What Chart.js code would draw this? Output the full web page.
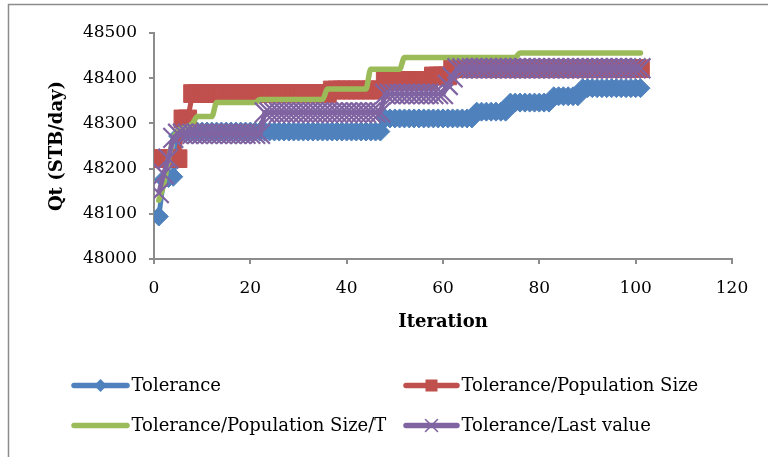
<!DOCTYPE html>
<html>
<head>
<meta charset="utf-8">
<script src="https://cdn.jsdelivr.net/npm/chart.js@4.4.1/dist/chart.umd.min.js"></script>
<style>
  html, body { margin: 0; padding: 0; background: #ffffff; }
  canvas { display: block; }
</style>
</head>
<body>
<canvas id="chart" width="768" height="457"></canvas>
<script>
// Iteration numbers (x values)
const iterations = [
  1, 2, 3, 4, 5, 6, 7, 8, 9, 10, 11, 12, 13, 14, 15, 16, 17, 18, 19, 20,
  21, 22, 23, 24, 25, 26, 27, 28, 29, 30, 31, 32, 33, 34, 35, 36, 37, 38, 39, 40,
  41, 42, 43, 44, 45, 46, 47, 48, 49, 50, 51, 52, 53, 54, 55, 56, 57, 58, 59, 60,
  61, 62, 63, 64, 65, 66, 67, 68, 69, 70, 71, 72, 73, 74, 75, 76, 77, 78, 79, 80,
  81, 82, 83, 84, 85, 86, 87, 88, 89, 90, 91, 92, 93, 94, 95, 96, 97, 98, 99, 100,
  101
];

// Qt (STB/day) per iteration for each stopping criterion
const tolerance = [
  48094, 48176, 48179, 48182, 48272, 48282, 48282, 48282, 48282, 48282,
  48282, 48282, 48282, 48282, 48282, 48282, 48282, 48282, 48282, 48282,
  48282, 48282, 48282, 48282, 48282, 48282, 48282, 48282, 48282, 48282,
  48282, 48282, 48282, 48282, 48282, 48282, 48282, 48282, 48282, 48282,
  48282, 48282, 48282, 48282, 48282, 48282, 48282, 48311, 48311, 48311,
  48311, 48311, 48311, 48311, 48311, 48311, 48311, 48311, 48311, 48311,
  48311, 48311, 48311, 48311, 48311, 48311, 48326, 48326, 48326, 48326,
  48326, 48326, 48326, 48346, 48346, 48346, 48346, 48346, 48346, 48346,
  48346, 48346, 48360, 48360, 48360, 48360, 48360, 48360, 48378, 48378,
  48378, 48378, 48378, 48378, 48378, 48378, 48378, 48378, 48378, 48378,
  48378
];

const tolPopSize = [
  48222, 48222, 48222, 48222, 48222, 48310, 48310, 48366, 48366, 48366,
  48366, 48366, 48366, 48366, 48366, 48366, 48366, 48366, 48366, 48366,
  48366, 48366, 48366, 48366, 48366, 48366, 48366, 48366, 48366, 48366,
  48366, 48366, 48366, 48366, 48366, 48366, 48374, 48374, 48374, 48374,
  48374, 48374, 48374, 48374, 48374, 48374, 48374, 48395, 48395, 48395,
  48395, 48395, 48395, 48395, 48395, 48395, 48395, 48405, 48405, 48405,
  48405, 48421, 48421, 48421, 48421, 48421, 48421, 48421, 48421, 48421,
  48421, 48421, 48421, 48421, 48421, 48421, 48421, 48421, 48421, 48421,
  48421, 48421, 48421, 48421, 48421, 48421, 48421, 48421, 48421, 48421,
  48421, 48421, 48421, 48421, 48421, 48421, 48421, 48421, 48421, 48421,
  48421
];

const tolPopSizeT = [
  48130, 48165, 48220, 48265, 48285, 48289, 48293, 48300, 48315, 48315,
  48315, 48315, 48346, 48346, 48346, 48346, 48346, 48346, 48346, 48346,
  48346, 48353, 48353, 48353, 48353, 48353, 48353, 48353, 48353, 48353,
  48353, 48353, 48353, 48353, 48353, 48376, 48376, 48376, 48376, 48376,
  48376, 48376, 48376, 48376, 48420, 48420, 48420, 48420, 48420, 48420,
  48420, 48446, 48446, 48446, 48446, 48446, 48446, 48446, 48446, 48446,
  48446, 48446, 48446, 48446, 48446, 48446, 48446, 48446, 48446, 48446,
  48446, 48446, 48446, 48446, 48446, 48456, 48456, 48456, 48456, 48456,
  48456, 48456, 48456, 48456, 48456, 48456, 48456, 48456, 48456, 48456,
  48456, 48456, 48456, 48456, 48456, 48456, 48456, 48456, 48456, 48456,
  48456
];

const tolLastValue = [
  48146, 48188, 48222, 48268, 48277, 48277, 48277, 48277, 48277, 48277,
  48277, 48277, 48277, 48277, 48277, 48277, 48277, 48277, 48277, 48277,
  48277, 48277, 48324, 48324, 48324, 48324, 48324, 48324, 48324, 48324,
  48324, 48324, 48324, 48324, 48324, 48324, 48324, 48324, 48324, 48324,
  48324, 48324, 48324, 48324, 48324, 48324, 48324, 48365, 48365, 48365,
  48365, 48365, 48365, 48365, 48365, 48365, 48365, 48365, 48365, 48365,
  48385, 48402, 48422, 48422, 48422, 48422, 48422, 48422, 48422, 48422,
  48422, 48422, 48422, 48422, 48422, 48422, 48422, 48422, 48422, 48422,
  48422, 48422, 48422, 48422, 48422, 48422, 48422, 48422, 48422, 48422,
  48422, 48422, 48422, 48422, 48422, 48422, 48422, 48422, 48422, 48422,
  48422
];

const seriesNames = [
  'Tolerance',
  'Tolerance/Population Size',
  'Tolerance/Population Size/T',
  'Tolerance/Last value'
];

const xTicks = [0, 20, 40, 60, 80, 100, 120];
const yTicks = [48000, 48100, 48200, 48300, 48400, 48500];

const xTitle = 'Iteration';
const yTitle = 'Qt (STB/day)';

const BLUE = '#4F81BD';
const RED = '#C0504D';
const GREEN = '#9BBB59';
const PURPLE = '#8064A2';
const AXIS = '#8c8c8c';
const SERIF = "'DejaVu Serif', serif";

function points(values) {
  return values.map((v, k) => ({ x: iterations[k], y: v }));
}

// Legend laid out in two columns and two rows under the plot
const legendSlots = [
  { x0: 71,  x1: 130, y: 385.5, color: BLUE,   marker: 'diamond' },
  { x0: 403, x1: 460, y: 385.5, color: RED,    marker: 'square' },
  { x0: 71,  x1: 130, y: 425.5, color: GREEN,  marker: 'none' },
  { x0: 403, x1: 460, y: 425.5, color: PURPLE, marker: 'cross' }
];

function drawMarker(ctx, kind, cx, cy, color) {
  ctx.save();
  ctx.fillStyle = color;
  ctx.strokeStyle = color;
  if (kind === 'diamond') {
    const r = 6.5;
    ctx.beginPath();
    ctx.moveTo(cx, cy - r);
    ctx.lineTo(cx + r, cy);
    ctx.lineTo(cx, cy + r);
    ctx.lineTo(cx - r, cy);
    ctx.closePath();
    ctx.fill();
  } else if (kind === 'square') {
    const s = 12;
    ctx.fillRect(cx - s / 2, cy - s / 2, s, s);
  } else if (kind === 'cross') {
    const r = 6;
    ctx.lineWidth = 1.6;
    ctx.beginPath();
    ctx.moveTo(cx - r, cy - r);
    ctx.lineTo(cx + r, cy + r);
    ctx.moveTo(cx + r, cy - r);
    ctx.lineTo(cx - r, cy + r);
    ctx.stroke();
  }
  ctx.restore();
}

const frameAndLegend = {
  id: 'frameAndLegend',
  beforeDraw(chart) {
    const ctx = chart.ctx;
    ctx.save();
    ctx.fillStyle = '#ffffff';
    ctx.fillRect(0, 0, chart.width, chart.height);
    ctx.restore();
  },
  afterDraw(chart) {
    const ctx = chart.ctx;
    ctx.save();
    // outer chart frame
    ctx.strokeStyle = AXIS;
    ctx.lineWidth = 1.5;
    ctx.beginPath();
    ctx.moveTo(8.5, chart.height + 2);
    ctx.lineTo(8.5, 4.5);
    ctx.lineTo(chart.width + 2, 4.5);
    ctx.stroke();

    // legend entries
    ctx.font = '18px ' + SERIF;
    ctx.textBaseline = 'middle';
    ctx.textAlign = 'left';
    legendSlots.forEach((slot, k) => {
      ctx.strokeStyle = slot.color;
      ctx.lineWidth = 5.5;
      ctx.lineCap = 'round';
      ctx.beginPath();
      ctx.moveTo(slot.x0 + 3, slot.y);
      ctx.lineTo(slot.x1 - 3, slot.y);
      ctx.stroke();
      drawMarker(ctx, slot.marker, (slot.x0 + slot.x1) / 2, slot.y, slot.color);
      ctx.fillStyle = '#000000';
      ctx.fillText(seriesNames[k], slot.x1 + 1.5, slot.y + 1);
    });
    ctx.restore();
  }
};

new Chart(document.getElementById('chart'), {
  type: 'line',
  data: {
    datasets: [
      {
        label: seriesNames[0],
        data: points(tolerance),
        borderColor: BLUE,
        backgroundColor: BLUE,
        borderWidth: 5,
        pointStyle: 'rectRot',
        pointRadius: 9.5,
        pointBorderWidth: 1,
        pointBackgroundColor: BLUE,
        pointBorderColor: BLUE,
        order: 4
      },
      {
        label: seriesNames[1],
        data: points(tolPopSize),
        borderColor: RED,
        backgroundColor: RED,
        borderWidth: 5,
        pointStyle: 'rect',
        pointRadius: 12.5,
        pointBorderWidth: 1,
        pointBackgroundColor: RED,
        pointBorderColor: RED,
        order: 3
      },
      {
        label: seriesNames[2],
        data: points(tolPopSizeT),
        borderColor: GREEN,
        backgroundColor: GREEN,
        borderWidth: 5.5,
        borderCapStyle: 'round',
        borderJoinStyle: 'round',
        cubicInterpolationMode: 'monotone',
        pointRadius: 0,
        order: 2
      },
      {
        label: seriesNames[3],
        data: points(tolLastValue),
        borderColor: PURPLE,
        backgroundColor: PURPLE,
        borderWidth: 5,
        pointStyle: 'crossRot',
        pointRadius: 14,
        pointBorderWidth: 2.2,
        pointBorderColor: PURPLE,
        order: 1
      }
    ]
  },
  options: {
    responsive: false,
    animation: false,
    events: [],
    layout: { padding: { left: 0, right: 36, top: 33, bottom: 118 } },
    plugins: {
      legend: { display: false },
      tooltip: { enabled: false },
      title: { display: false }
    },
    scales: {
      x: {
        type: 'linear',
        min: xTicks[0],
        max: xTicks[xTicks.length - 1],
        afterBuildTicks: (s) => { s.ticks = xTicks.map(v => ({ value: v })); },
        afterFit: (s) => { s.height = 80; },
        grid: { display: true, drawOnChartArea: false, drawTicks: true, tickLength: 5, color: AXIS, lineWidth: 2 },
        border: { display: true, color: AXIS, width: 2 },
        ticks: { color: '#000000', font: { family: SERIF, size: 17 }, padding: 14, maxRotation: 0,
                 callback: (v) => String(v) },
        title: {
          display: true,
          text: xTitle,
          color: '#000000',
          font: { family: SERIF, size: 18, weight: 'bold' },
          padding: { top: 0, bottom: 6 }
        }
      },
      y: {
        type: 'linear',
        min: yTicks[0],
        max: yTicks[yTicks.length - 1],
        afterBuildTicks: (s) => { s.ticks = yTicks.map(v => ({ value: v })); },
        afterFit: (s) => { s.width = 154; },
        grid: { display: true, drawOnChartArea: false, drawTicks: true, tickLength: 5, color: AXIS, lineWidth: 2 },
        border: { display: true, color: AXIS, width: 2 },
        ticks: { color: '#000000', font: { family: SERIF, size: 17 }, padding: 12,
                 callback: (v) => String(v) },
        title: {
          display: true,
          text: yTitle,
          color: '#000000',
          font: { family: SERIF, size: 18, weight: 'bold' },
          padding: { top: 47, bottom: 0 }
        }
      }
    }
  },
  plugins: [frameAndLegend]
});
</script>
</body>
</html>
